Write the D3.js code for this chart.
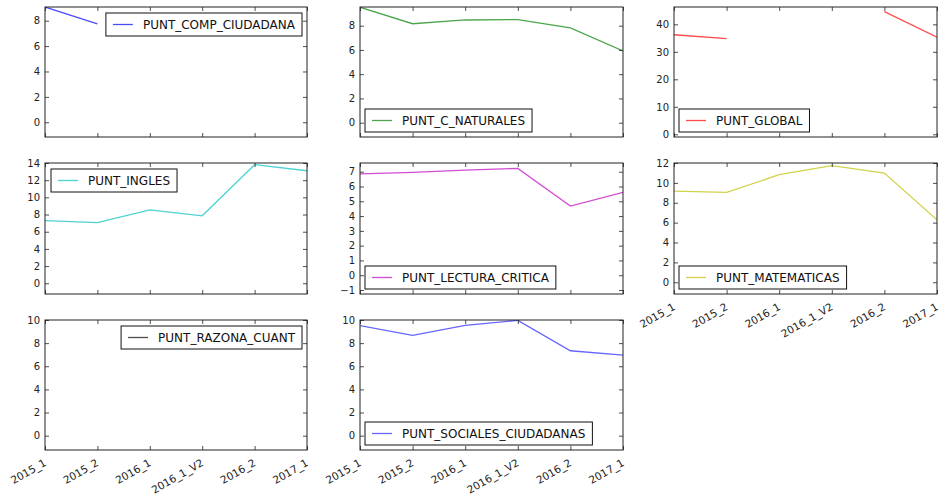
<!DOCTYPE html>
<html>
<head>
<meta charset="utf-8">
<script src="https://cdn.jsdelivr.net/npm/d3@7"></script>
<style>
    body { margin: 0; background: #fff; }
    svg { font-family: "DejaVu Sans", sans-serif; }
</style>
</head>
<body>
<div id="chart"></div>
<script>
// periods on the x axis
const categories = ["2015_1", "2015_2", "2016_1", "2016_1_V2", "2016_2", "2017_1"];

// one series per subplot, null = missing value
const puntCompCiudadana = [9.08, 7.75, null, null, null, null];
const puntCNaturales = [9.52, 8.16, 8.47, 8.50, 7.81, 5.91];
const puntGlobal = [36.2, 34.8, null, null, 44.6, 35.3];
const puntIngles = [7.3, 7.07, 8.55, 7.85, 13.8, 13.1];
const puntLecturaCritica = [6.86, 6.95, 7.11, 7.22, 4.68, 5.6];
const puntMatematicas = [9.18, 9.04, 10.82, 11.73, 10.99, 6.28];
const puntRazonaCuant = [null, null, null, null, null, null];
const puntSocialesCiudadanas = [9.51, 8.67, 9.54, 9.97, 7.34, 6.96];

const seriesNames = ["PUNT_COMP_CIUDADANA", "PUNT_C_NATURALES", "PUNT_GLOBAL", "PUNT_INGLES",
    "PUNT_LECTURA_CRITICA", "PUNT_MATEMATICAS", "PUNT_RAZONA_CUANT", "PUNT_SOCIALES_CIUDADANAS"];
const seriesValues = [puntCompCiudadana, puntCNaturales, puntGlobal, puntIngles,
    puntLecturaCritica, puntMatematicas, puntRazonaCuant, puntSocialesCiudadanas];

// y limits and tick values of every subplot
const yLimits = [[-1.16, 9.08], [-1.18, 9.54], [-0.98, 46.3], [-1.25, 14],
    [-1.27, 7.59], [-1.18, 12], [-1.24, 10], [-1.24, 10]];
const yTicks = [[0, 2, 4, 6, 8], [0, 2, 4, 6, 8], [0, 10, 20, 30, 40], [0, 2, 4, 6, 8, 10, 12, 14],
    [-1, 0, 1, 2, 3, 4, 5, 6, 7], [0, 2, 4, 6, 8, 10, 12], [0, 2, 4, 6, 8, 10], [0, 2, 4, 6, 8, 10]];

const colors = ["#0000ff", "#008000", "#ff0000", "#00bfbf", "#bf00bf", "#bfbf00", "#000000", "#0000ff"];
const legendLoc = ["ur", "ll", "ll", "ul", "ll", "ll", "ur", "ll"];

const width = 939, height = 495;
const colX = [[45, 307], [360, 623], [674, 937]];
const rowY = [[7, 137], [163, 294], [320, 450]];

const svg = d3.select("#chart").append("svg")
    .attr("width", width)
    .attr("height", height);

seriesNames.forEach(function (name, i) {
    const col = i % 3, row = Math.floor(i / 3);
    const x0 = colX[col][0], x1 = colX[col][1];
    const y0 = rowY[row][0], y1 = rowY[row][1];
    // subplots that get x labels: last row and the one above the empty slot
    const showXLabels = row === 2 || i === 5;

    const x = d3.scalePoint().domain(categories).range([x0, x1]).padding(0);
    const y = d3.scaleLinear().domain(yLimits[i]).range([y1, y0]);

    const g = svg.append("g");

    // data line
    const line = d3.line()
        .defined(function (d) { return d !== null; })
        .x(function (d, j) { return x(categories[j]); })
        .y(function (d) { return y(d); });

    const clipId = "clip" + i;
    g.append("clipPath").attr("id", clipId)
        .append("rect").attr("x", x0).attr("y", y0).attr("width", x1 - x0).attr("height", y1 - y0);

    g.append("path")
        .datum(seriesValues[i])
        .attr("clip-path", "url(#" + clipId + ")")
        .attr("fill", "none")
        .attr("stroke", colors[i])
        .attr("stroke-opacity", i === 7 ? 0.6 : 0.7)
        .attr("stroke-width", 1.3)
        .attr("d", line);

    // y axis left and right, ticks pointing inward
    const yLeft = g.append("g")
        .attr("transform", `translate(${x0},0)`)
        .call(d3.axisLeft(y).tickValues(yTicks[i]).tickSizeInner(-4).tickSizeOuter(0).tickPadding(5)
            .tickFormat(function (d) { return d < 0 ? "\u2212" + Math.abs(d) : d; }));
    g.append("g")
        .attr("transform", `translate(${x1},0)`)
        .call(d3.axisRight(y).tickValues(yTicks[i]).tickSizeInner(-4).tickSizeOuter(0).tickFormat(""));

    // x ticks bottom and top
    g.append("g")
        .attr("transform", `translate(0,${y1})`)
        .call(d3.axisBottom(x).tickSizeInner(-4).tickSizeOuter(0).tickFormat(""));
    g.append("g")
        .attr("transform", `translate(0,${y0})`)
        .call(d3.axisTop(x).tickSizeInner(-4).tickSizeOuter(0).tickFormat(""));

    g.selectAll(".domain").remove();
    g.selectAll(".tick line").attr("stroke", "#222").attr("stroke-width", 0.8);
    yLeft.selectAll("text").attr("font-size", 10).attr("fill", "#222")
        .attr("font-family", "DejaVu Sans");

    if (showXLabels) {
        g.selectAll(".xlab")
            .data(categories)
            .join("text")
            .attr("class", "xlab")
            .attr("text-anchor", "end")
            .attr("font-size", 10.5)
            .attr("fill", "#222")
            .attr("transform", function (d) {
                return `translate(${x(d) + 2},${y1 + 15}) rotate(-30)`;
            })
            .text(function (d) { return d; });
    }

    // frame
    g.append("rect")
        .attr("x", x0).attr("y", y0)
        .attr("width", x1 - x0).attr("height", y1 - y0)
        .attr("fill", "none")
        .attr("stroke", "#222")
        .attr("stroke-width", 1);

    // legend
    const leg = g.append("g");
    const legText = leg.append("text")
        .attr("font-size", 12)
        .attr("fill", "#111")
        .text(name);
    const textWidth = legText.node().getComputedTextLength();
    const boxW = 37 + textWidth + 7, boxH = 23;
    let bx, by;
    if (legendLoc[i] === "ur") { bx = x1 - 5 - boxW; by = y0 + 6; }
    else if (legendLoc[i] === "ul") { bx = x0 + 6; by = y0 + 6; }
    else { bx = x0 + 5; by = y1 - 5 - boxH; }

    leg.insert("rect", "text")
        .attr("x", bx).attr("y", by)
        .attr("width", boxW).attr("height", boxH)
        .attr("fill", "#fff")
        .attr("stroke", "#111")
        .attr("stroke-width", 1);
    leg.append("line")
        .attr("x1", bx + 7).attr("x2", bx + 27)
        .attr("y1", by + boxH / 2).attr("y2", by + boxH / 2)
        .attr("stroke", colors[i])
        .attr("stroke-opacity", i === 7 ? 0.6 : 0.7)
        .attr("stroke-width", 1.3);
    legText.attr("x", bx + 37).attr("y", by + boxH / 2 + 4.5);
});
</script>
</body>
</html>
